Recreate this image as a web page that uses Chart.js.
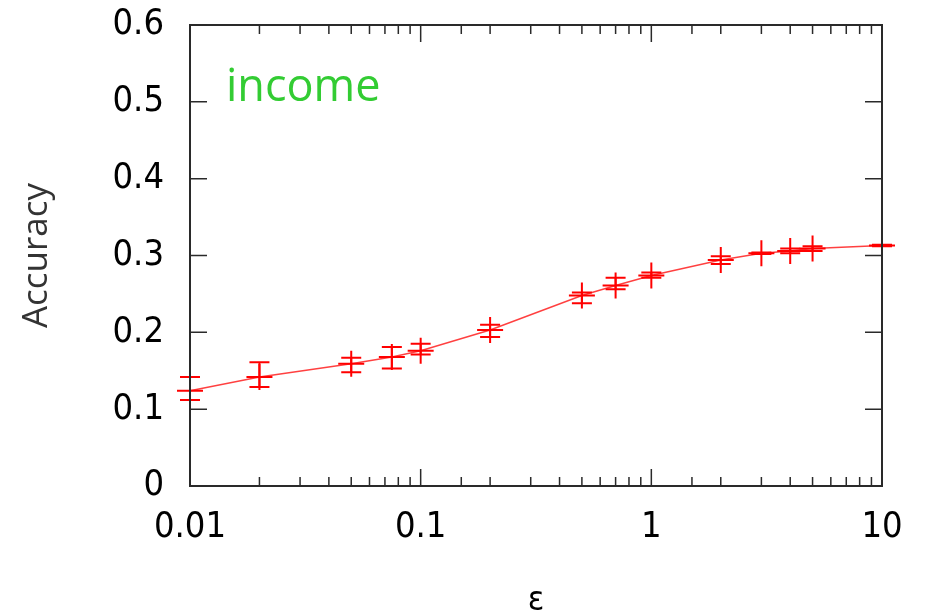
<!DOCTYPE html>
<html>
<head>
<meta charset="utf-8">
<script src="https://cdn.jsdelivr.net/npm/chart.js@4/dist/chart.umd.min.js"></script>
<style>
  html, body { margin: 0; padding: 0; background: #fff; }
  #wrap { width: 928px; height: 610px; }
</style>
</head>
<body>
<div id="wrap"><canvas id="chart" width="928" height="610"></canvas></div>
<script>
const epsilons = [0.01, 0.02, 0.05, 0.075, 0.1, 0.2, 0.5, 0.7, 1, 2, 3, 4, 5, 10];
const accuracy = [0.124, 0.142, 0.159, 0.168, 0.176, 0.203, 0.248, 0.261, 0.274, 0.294, 0.303, 0.306, 0.309, 0.313];
const errLow = [0.112, 0.129, 0.148, 0.153, 0.171, 0.194, 0.238, 0.256, 0.271, 0.289, 0.302, 0.303, 0.306, 0.312];
const errHigh = [0.142, 0.161, 0.167, 0.181, 0.185, 0.210, 0.252, 0.271, 0.278, 0.299, 0.304, 0.309, 0.312, 0.314];
const yTicks = [0, 0.1, 0.2, 0.3, 0.4, 0.5, 0.6];
const xMajor = [0.01, 0.1, 1, 10];

const RED = "#ff0000";
const AXIS = "#2a2a2a";
const TICK_FONT = "'DejaVu Sans Condensed', 'DejaVu Sans'";

function isMajor(v) {
  return xMajor.some((m) => Math.abs(Math.log10(v) - Math.log10(m)) < 1e-6);
}

const errorBars = {
  id: "errorBars",
  afterDatasetsDraw(chart) {
    const { ctx } = chart;
    const x = chart.scales.x;
    const y = chart.scales.y;
    ctx.save();
    ctx.strokeStyle = RED;
    ctx.lineWidth = 2;
    epsilons.forEach((e, i) => {
      const px = x.getPixelForValue(e);
      const lo = y.getPixelForValue(errLow[i]);
      const hi = y.getPixelForValue(errHigh[i]);
      ctx.beginPath();
      ctx.moveTo(px, lo);
      ctx.lineTo(px, hi);
      ctx.moveTo(px - 10, lo);
      ctx.lineTo(px + 10, lo);
      ctx.moveTo(px - 10, hi);
      ctx.lineTo(px + 10, hi);
      ctx.stroke();
    });
    ctx.restore();
  },
};

const frame = {
  id: "frame",
  afterDraw(chart) {
    const { ctx, chartArea: a } = chart;
    const x = chart.scales.x;
    const y = chart.scales.y;
    ctx.save();
    ctx.strokeStyle = AXIS;
    ctx.lineWidth = 2;
    ctx.strokeRect(a.left, a.top, a.right - a.left, a.bottom - a.top);
    ctx.lineWidth = 1.5;
    ctx.beginPath();
    x.ticks.forEach((t) => {
      const px = x.getPixelForValue(t.value);
      const len = isMajor(t.value) ? 17 : 9;
      ctx.moveTo(px, a.bottom);
      ctx.lineTo(px, a.bottom - len);
      ctx.moveTo(px, a.top);
      ctx.lineTo(px, a.top + len);
    });
    yTicks.forEach((v) => {
      const py = y.getPixelForValue(v);
      ctx.moveTo(a.left, py);
      ctx.lineTo(a.left + 17, py);
      ctx.moveTo(a.right, py);
      ctx.lineTo(a.right - 17, py);
    });
    ctx.stroke();

    // dataset label inside the plot
    ctx.fillStyle = "#33cc33";
    ctx.font = "45px 'Open Sans'";
    ctx.textBaseline = "alphabetic";
    ctx.fillText("income", a.left + 36, a.top + 76);
    ctx.restore();
  },
};

new Chart(document.getElementById("chart"), {
  type: "line",
  data: {
    labels: epsilons,
    datasets: [
      {
        data: epsilons.map((e, i) => ({ x: e, y: accuracy[i] })),
        borderColor: "rgba(255, 0, 0, 0.75)",
        borderWidth: 1.5,
        tension: 0,
        pointStyle: epsilons.map((e, i) => (i === epsilons.length - 1 ? "line" : "cross")),
        pointRadius: 13,
        pointBorderWidth: 2,
        pointBorderColor: RED,
        pointBackgroundColor: RED,
        clip: false,
      },
    ],
  },
  options: {
    responsive: false,
    animation: false,
    events: [],
    layout: { padding: { top: 25, right: 46, left: 0, bottom: 0 } },
    plugins: { legend: { display: false }, tooltip: { enabled: false } },
    scales: {
      x: {
        type: "logarithmic",
        min: 0.01,
        max: 10,
        grid: { display: false, drawTicks: false },
        border: { display: false },
        afterFit(scale) { scale.height = 124; },
        ticks: {
          autoSkip: false,
          maxRotation: 0,
          padding: 20,
          color: "#000",
          font: { family: TICK_FONT, size: 36 },
          callback: (v) => (isMajor(v) ? String(v) : ""),
        },
        title: {
          display: true,
          text: "ε",
          color: "#000",
          font: { family: TICK_FONT, size: 34 },
          padding: { top: 0, bottom: -12 },
        },
      },
      y: {
        min: 0,
        max: 0.6,
        grid: { display: false, drawTicks: false },
        border: { display: false },
        afterFit(scale) {
          scale.width = 190;
          scale.paddingTop = 0;
          scale.paddingBottom = 0;
        },
        ticks: {
          stepSize: 0.1,
          padding: 26,
          color: "#000",
          font: { family: TICK_FONT, size: 36 },
          callback: (v) => (v === 0 ? "0" : v.toFixed(1)),
        },
        title: {
          display: true,
          text: "Accuracy",
          color: "#333",
          font: { family: "'Open Sans'", size: 35 },
          padding: { top: 16, bottom: 0 },
        },
      },
    },
  },
  plugins: [errorBars, frame],
});
</script>
</body>
</html>
